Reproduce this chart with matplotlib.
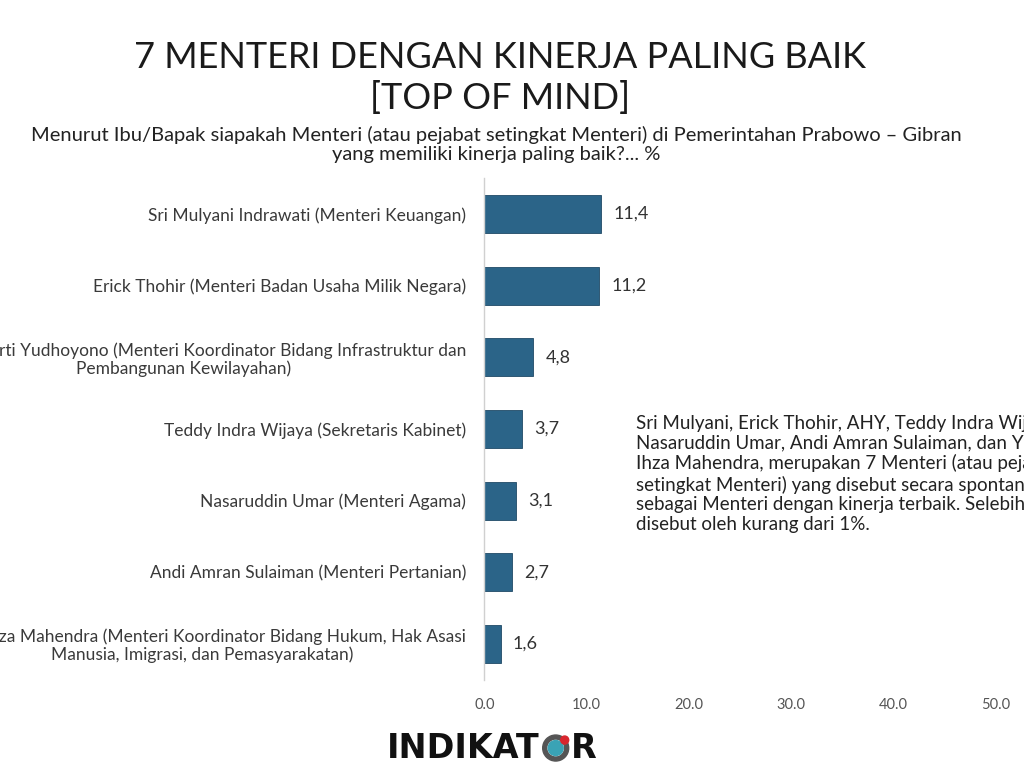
import matplotlib.pyplot as plt
from matplotlib.patches import Circle, Wedge

plt.rcParams['font.family'] = ['Lato', 'DejaVu Sans']

names = [
    'Sri Mulyani Indrawati (Menteri Keuangan)',
    'Erick Thohir (Menteri Badan Usaha Milik Negara)',
    'Agus Harimurti Yudhoyono (Menteri Koordinator Bidang Infrastruktur dan\nPembangunan Kewilayahan)',
    'Teddy Indra Wijaya (Sekretaris Kabinet)',
    'Nasaruddin Umar (Menteri Agama)',
    'Andi Amran Sulaiman (Menteri Pertanian)',
    'Yusril Ihza Mahendra (Menteri Koordinator Bidang Hukum, Hak Asasi\nManusia, Imigrasi, dan Pemasyarakatan)',
]
values = [11.4, 11.2, 4.8, 3.7, 3.1, 2.7, 1.6]
value_labels = ['11,4', '11,2', '4,8', '3,7', '3,1', '2,7', '1,6']
x_ticks = [0, 10, 20, 30, 40, 50]

note = ('Sri Mulyani, Erick Thohir, AHY, Teddy Indra Wijaya,\n'
        'Nasaruddin Umar, Andi Amran Sulaiman, dan Yusril\n'
        'Ihza Mahendra, merupakan 7 Menteri (atau pejabat\n'
        'setingkat Menteri) yang disebut secara spontan\n'
        'sebagai Menteri dengan kinerja terbaik. Selebihnya\n'
        'disebut oleh kurang dari 1%.')

fig = plt.figure(figsize=(10.24, 7.68), dpi=100)
ax = fig.add_axes([0.473, 0.115, 0.499, 0.653])

pos = list(range(len(values)))
bar_color = '#2b6488'
ax.barh(pos, values, height=0.53, color=bar_color, edgecolor='#1f4a66', linewidth=0.6)
ax.set_ylim(len(values) - 0.5, -0.5)
ax.set_xlim(0, 50)

for p, v, lab in zip(pos, values, value_labels):
    ax.text(v + 1.2, p, lab, va='center', ha='left', fontsize=13, color='#333333')

ax.set_yticks(pos)
ax.set_yticklabels(names, fontsize=12.5, color='#3a3a3a', multialignment='center',
                   linespacing=1.1)
ax.set_xticks(x_ticks)
ax.set_xticklabels([f'{t:.1f}' for t in x_ticks], fontsize=10.5, color='#555555')
ax.tick_params(axis='y', length=0, pad=13)
ax.tick_params(axis='x', length=0, pad=13)

for s in ['top', 'right', 'bottom']:
    ax.spines[s].set_visible(False)
ax.spines['left'].set_color('#d0d0d0')
ax.spines['left'].set_linewidth(1)

fig.text(0.488, 0.925, '7 MENTERI DENGAN KINERJA PALING BAIK', ha='center', va='center',
         fontsize=26, color='#1a1a1a')
fig.text(0.488, 0.873, '[TOP OF MIND]', ha='center', va='center', fontsize=26, color='#1a1a1a')
fig.text(0.485, 0.812, 'Menurut Ibu/Bapak siapakah Menteri (atau pejabat setingkat Menteri) di Pemerintahan Prabowo \u2013 Gibran\nyang memiliki kinerja paling baik?... %',
         ha='center', va='center', fontsize=14.5, color='#222222', linespacing=1.2)

fig.text(0.621, 0.383, note, ha='left', va='center', fontsize=13.5, color='#222222', linespacing=1.2)

# logo
logo = fig.text(0.378, 0.026, 'INDIKAT', ha='left', va='center', fontsize=24, fontweight='bold',
                color='#111111', family='DejaVu Sans')
fig.canvas.draw()
bb = logo.get_window_extent()
cx = bb.x1 + 16
cy = 0.026 * 768
fig.patches.append(Wedge((cx, cy), 13, 40, 400, width=4, color='#555555',
                         transform=None, figure=fig))
fig.patches.append(Circle((cx, cy), 7.5, color='#3aa3b5', transform=None, figure=fig))
fig.patches.append(Circle((cx + 9, cy + 8), 4, color='#d8262e', transform=None, figure=fig))
fig.text((cx + 15) / 1024, 0.026, 'R', ha='left', va='center', fontsize=24, fontweight='bold',
         color='#111111', family='DejaVu Sans')

fig.savefig('out.png', dpi=100)
